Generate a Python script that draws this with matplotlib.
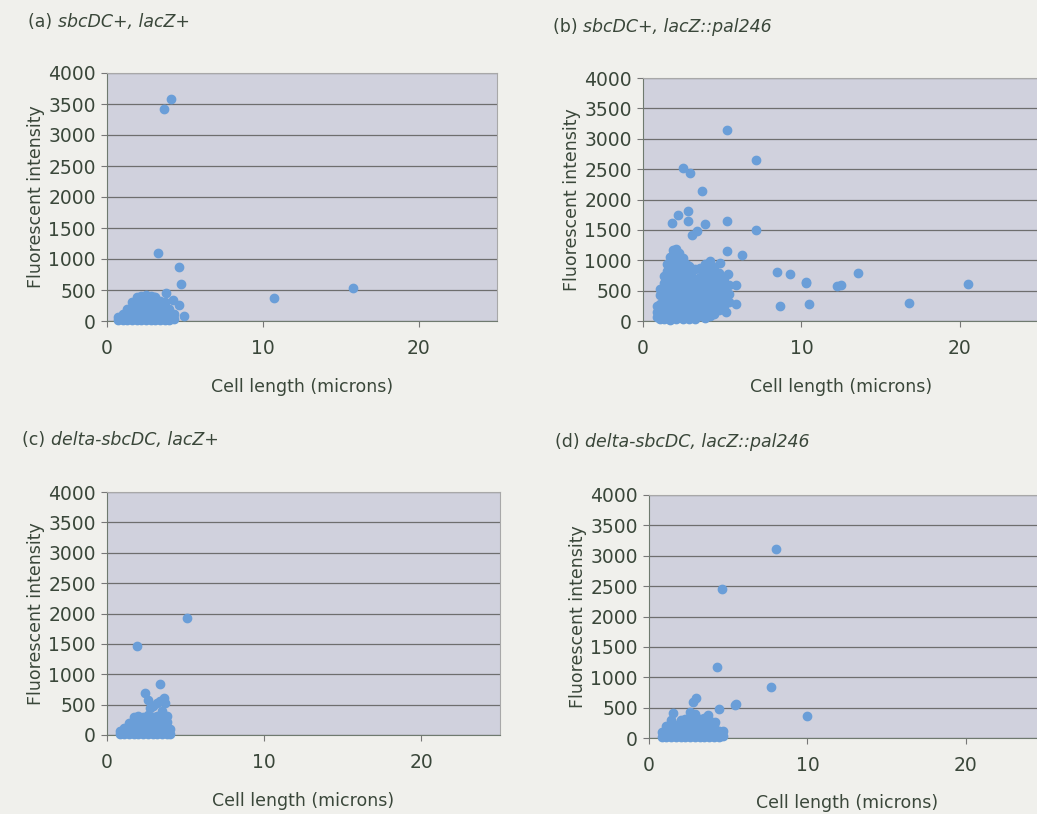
import matplotlib.pyplot as plt

# (a) sbcDC+, lacZ+  -- cell length (microns), fluorescent intensity
a_len = [0.7, 0.7, 1.0, 1.0, 1.3, 1.3, 1.3, 1.6, 1.6, 1.6, 1.6,
         1.9, 1.9, 1.9, 1.9, 1.9, 2.2, 2.2, 2.2, 2.2, 2.2,
         2.5, 2.5, 2.5, 2.5, 2.5, 2.8, 2.8, 2.8, 2.8, 2.8,
         3.1, 3.1, 3.1, 3.1, 3.1, 3.4, 3.4, 3.4, 3.4,
         3.7, 3.7, 3.7, 3.7, 4.0, 4.0, 4.0, 4.3, 4.3,
         4.1, 3.67, 3.24, 4.63, 4.76, 10.7, 15.74, 3.77, 4.59, 4.95, 4.2, 3.04]
a_int = [20, 70, 10, 110, 20, 120, 200, 10, 110, 210, 300,
         20, 130, 240, 350, 390, 10, 120, 230, 340, 400,
         20, 130, 240, 350, 420, 10, 120, 230, 340, 400,
         20, 130, 240, 330, 380, 10, 120, 230, 330,
         20, 130, 240, 300, 10, 120, 200, 30, 120,
         3580, 3414, 1102, 876, 597, 376, 537, 447, 258, 81, 340, 392]

# (b) sbcDC+, lacZ::pal246
b_len = [0.9, 0.9, 0.9,
         1.1, 1.1, 1.1, 1.1, 1.1,
         1.3, 1.3, 1.3, 1.3, 1.3, 1.3, 1.3,
         1.5, 1.5, 1.5, 1.5, 1.5, 1.5, 1.5, 1.5,
         1.7, 1.7, 1.7, 1.7, 1.7, 1.7, 1.7, 1.7, 1.7,
         1.9, 1.9, 1.9, 1.9, 1.9, 1.9, 1.9, 1.9, 1.9, 1.9,
         2.1, 2.1, 2.1, 2.1, 2.1, 2.1, 2.1, 2.1, 2.1, 2.1,
         2.3, 2.3, 2.3, 2.3, 2.3, 2.3, 2.3, 2.3, 2.3,
         2.5, 2.5, 2.5, 2.5, 2.5, 2.5, 2.5, 2.5, 2.5,
         2.7, 2.7, 2.7, 2.7, 2.7, 2.7, 2.7, 2.7,
         2.9, 2.9, 2.9, 2.9, 2.9, 2.9, 2.9, 2.9,
         3.1, 3.1, 3.1, 3.1, 3.1, 3.1, 3.1,
         3.3, 3.3, 3.3, 3.3, 3.3, 3.3, 3.3,
         3.6, 3.6, 3.6, 3.6, 3.6, 3.6, 3.6,
         3.9, 3.9, 3.9, 3.9, 3.9, 3.9, 3.9, 3.9,
         4.2, 4.2, 4.2, 4.2, 4.2, 4.2, 4.2, 4.2,
         4.5, 4.5, 4.5, 4.5, 4.5, 4.5, 4.5,
         4.8, 4.8, 4.8, 4.8, 4.8, 4.8,
         5.1, 5.1, 5.1, 5.1, 5.1,
         5.4, 5.4, 5.4,
         5.28, 7.13, 2.54, 2.97, 3.7, 2.86, 2.23, 1.81, 2.86, 5.28, 7.13,
         3.91, 3.1, 3.4, 6.23, 5.28, 4.86, 8.43, 9.27, 10.28, 10.3, 12.22,
         12.5, 13.58, 20.5, 8.64, 10.49, 16.8, 5.87, 5.24, 5.87, 5.37]
b_int = [60, 150, 250,
         40, 150, 280, 420, 530,
         30, 140, 260, 380, 500, 620, 740,
         50, 170, 300, 430, 560, 690, 820, 940,
         20, 140, 270, 400, 530, 660, 790, 920, 1060,
         60, 190, 320, 450, 580, 710, 840, 970, 1100, 1170,
         30, 160, 290, 420, 550, 680, 810, 940, 1070, 1190,
         70, 200, 330, 460, 590, 720, 850, 980, 1120,
         40, 170, 300, 430, 560, 690, 820, 950, 1040,
         80, 210, 340, 470, 600, 730, 860, 940,
         30, 160, 290, 420, 550, 680, 810, 900,
         70, 200, 330, 460, 590, 720, 860,
         40, 170, 300, 430, 560, 690, 850,
         80, 210, 340, 470, 600, 730, 870,
         50, 180, 310, 440, 570, 700, 830, 940,
         90, 220, 350, 480, 610, 740, 870, 990,
         120, 250, 380, 510, 640, 770, 890,
         180, 310, 440, 570, 700, 790,
         250, 380, 510, 640, 700,
         320, 450, 590,
         3140, 2650, 2513, 2440, 2145, 1816, 1745, 1610, 1640, 1646, 1500,
         1600, 1420, 1480, 1086, 1150, 950, 810, 775, 620, 650, 570,
         590, 785, 610, 250, 280, 290, 280, 140, 600, 770]

# (c) delta-sbcDC, lacZ+
c_len = [0.8, 0.8, 1.1, 1.1, 1.4, 1.4, 1.4, 1.7, 1.7, 1.7, 1.7,
         2.0, 2.0, 2.0, 2.0, 2.3, 2.3, 2.3, 2.3, 2.6, 2.6, 2.6, 2.6,
         2.9, 2.9, 2.9, 2.9, 3.2, 3.2, 3.2, 3.2, 3.5, 3.5, 3.5, 3.5, 3.5,
         3.8, 3.8, 3.8, 3.8, 4.0, 4.0,
         2.42, 2.6, 2.74, 2.95, 3.2, 3.4, 3.6, 3.7, 3.38, 1.89, 5.08]
c_int = [20, 60, 10, 120, 20, 110, 200, 10, 110, 210, 300,
         20, 120, 220, 320, 10, 110, 210, 300, 20, 120, 220, 330,
         10, 110, 210, 300, 20, 120, 220, 320, 10, 110, 210, 300, 400,
         20, 120, 220, 320, 10, 100,
         686, 570, 440, 470, 520, 560, 610, 520, 840, 1465, 1920]

# (d) delta-sbcDC, lacZ::pal246
d_len = [0.8, 0.8, 1.1, 1.1, 1.1, 1.4, 1.4, 1.4, 1.4, 1.7, 1.7, 1.7,
         2.0, 2.0, 2.0, 2.0, 2.3, 2.3, 2.3, 2.3, 2.6, 2.6, 2.6, 2.6, 2.6,
         2.9, 2.9, 2.9, 2.9, 2.9, 3.2, 3.2, 3.2, 3.2, 3.5, 3.5, 3.5, 3.5,
         3.8, 3.8, 3.8, 3.8, 4.1, 4.1, 4.1, 4.4, 4.4, 4.7, 4.7,
         8.01, 4.59, 4.31, 7.68, 5.49, 5.4, 9.99, 4.4, 2.97, 2.8, 1.53,
         4.59, 3.75, 4.17]
d_int = [20, 100, 10, 110, 200, 20, 120, 220, 300, 10, 110, 210,
         20, 120, 220, 300, 10, 110, 210, 320, 20, 120, 220, 320, 420,
         10, 110, 210, 310, 400, 20, 120, 220, 320, 10, 110, 210, 330,
         20, 120, 220, 300, 10, 110, 220, 20, 120, 30, 110,
         3106, 2447, 1174, 845, 560, 540, 362, 472, 653, 600, 406,
         104, 380, 270]

labels = ['(a) ', '(b) ', '(c) ', '(d) ']
strains = ['sbcDC+, lacZ+', 'sbcDC+, lacZ::pal246',
           'delta-sbcDC, lacZ+', 'delta-sbcDC, lacZ::pal246']
lengths = [a_len, b_len, c_len, d_len]
intens = [a_int, b_int, c_int, d_int]

W, H = 1037, 814
# axes boxes in pixels: left, top, right, bottom
boxes = [(107, 73, 497, 321), (643, 78, 1039, 321),
         (107, 492, 500, 735), (649, 495, 1045, 738)]
title_pos = [(28, 22), (553, 27), (22, 440), (555, 442)]

txt = '#3a473a'
fig = plt.figure(figsize=(W / 100, H / 100), dpi=100, facecolor='#f0f0ec')

for i in range(4):
    l, t, r, b = boxes[i]
    ax = fig.add_axes([l / W, 1 - b / H, (r - l) / W, (b - t) / H])
    ax.set_facecolor('#d0d1dd')
    ax.plot(lengths[i], intens[i], linestyle='none', marker='o', ms=6,
            color='#6a9ed8', mec='#6a9ed8', zorder=3, clip_on=False)
    ax.set_xlim(0, 25)
    ax.set_ylim(0, 4000)
    ax.set_xticks([0, 10, 20])
    ax.set_yticks(range(0, 4001, 500))
    ax.grid(axis='y', color='#6e6e6e', linewidth=0.9)
    ax.set_axisbelow(True)
    ax.tick_params(labelsize=13.5, labelcolor=txt, color='#777777',
                   length=4, width=0.8)
    ax.tick_params(axis='x', pad=9)
    ax.tick_params(axis='y', pad=4)
    for s in ['top', 'right']:
        ax.spines[s].set_color('#a8a8a8')
    for s in ['left', 'bottom']:
        ax.spines[s].set_color('#6f7a6f')
    ax.set_xlabel('Cell length (microns)', fontsize=12.5, color=txt,
                  labelpad=14)
    ax.set_ylabel('Fluorescent intensity', fontsize=12.5, color=txt,
                  labelpad=2)

    tx, ty = title_pos[i]
    t1 = fig.text(tx / W, 1 - ty / H, labels[i], fontsize=12.5, color=txt,
                  va='center', ha='left')
    ax.annotate(strains[i], xy=(1, 0.5), xycoords=t1, va='center',
                ha='left', fontsize=12.5, color=txt, style='italic',
                annotation_clip=False)

fig.savefig('out.png', dpi=100, facecolor=fig.get_facecolor())
